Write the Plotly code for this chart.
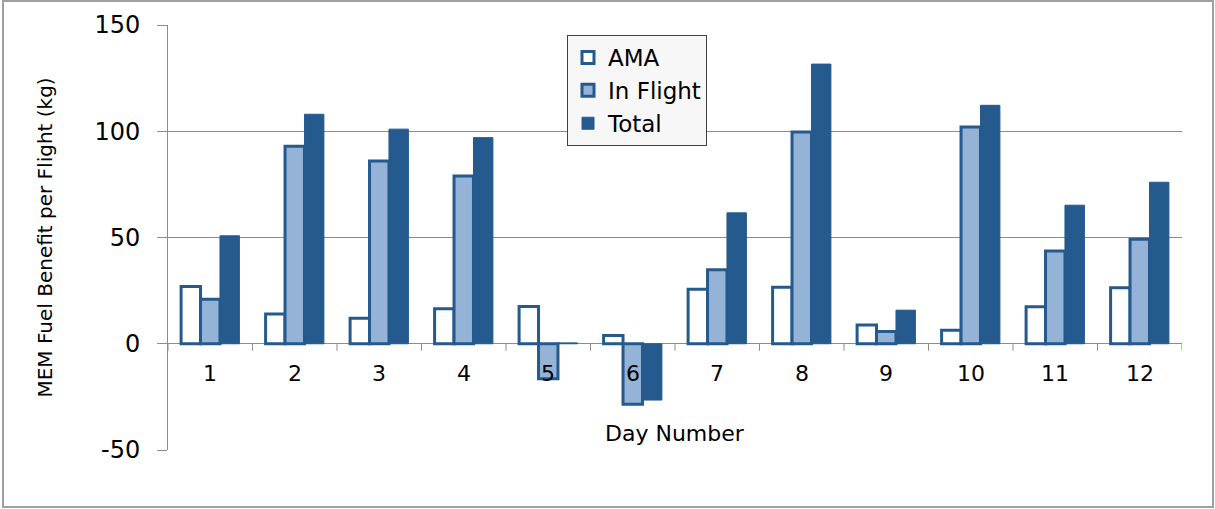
import plotly.graph_objects as go

days = [str(d) for d in range(1, 13)]
ama = [27, 14, 12, 16.5, 17.5, 3.9, 25.7, 26.6, 8.8, 6.3, 17.4, 26.3]
in_flight = [21, 93, 86, 79, -16.5, -28.5, 34.8, 99.7, 5.8, 102, 43.6, 49.2]
total = [50.8, 108, 101, 97, 0.4, -26.5, 61.6, 131.6, 15.8, 112.2, 65.2, 76]

y_ticks = [-50, 0, 50, 100, 150]
y_labels = ['-50', '0', '50', '100', '150']

dark = '#245a8d'
light = '#95b3d7'
grid = '#8c8c8c'
font = 'DejaVu Sans'

fig = go.Figure()
fig.add_trace(go.Bar(
    x=days, y=ama, name='AMA',
    marker=dict(color='white', line=dict(color=dark, width=3))
))
fig.add_trace(go.Bar(
    x=days, y=in_flight, name='In Flight',
    marker=dict(color=light, line=dict(color=dark, width=3))
))
fig.add_trace(go.Bar(
    x=days, y=total, name='Total',
    marker=dict(color=dark, line=dict(color=dark, width=1))
))

# day labels sit on the zero line, Excel style
for i, d in enumerate(days):
    fig.add_annotation(x=i, y=0, xref='x', yref='y', text=d, showarrow=False,
                       yshift=-30, font=dict(family=font, size=22, color='black'))

# tick marks between categories on the zero line
for i in range(len(days) + 1):
    fig.add_shape(type='line', xref='x', yref='y', x0=i - 0.5, x1=i - 0.5,
                  ysizemode='pixel', yanchor=0, y0=0, y1=-7,
                  line=dict(color=grid, width=1))

W, H = 1215, 509
l, r, t, b = 168, 33, 25, 59
pw, ph = W - l - r, H - t - b

fig.add_annotation(x=0.5, y=(H - b - 433) / ph, xref='paper', yref='paper',
                   text='Day Number', showarrow=False, yanchor='middle',
                   font=dict(family=font, size=22, color='black'))

# outer chart border
fig.add_shape(type='rect', xref='paper', yref='paper',
              x0=(3 - l) / pw, x1=(W - 2 - l) / pw,
              y0=-(H - 2 - (H - b)) / ph, y1=(H - b - 1) / ph,
              line=dict(color='#a0a0a0', width=2), layer='below')

fig.update_layout(
    width=W, height=H,
    margin=dict(l=l, r=r, t=t, b=b),
    paper_bgcolor='white', plot_bgcolor='white',
    barmode='group', bargap=0.31, bargroupgap=0,
    font=dict(family=font, color='black'),
    legend=dict(
        x=(567 - l) / pw, y=(H - b - 35) / ph, xanchor='left', yanchor='top',
        bgcolor='#f7f7f7', bordercolor='#404040', borderwidth=1,
        font=dict(family=font, size=23), tracegroupgap=0
    ),
    xaxis=dict(
        type='category', range=[-0.5, 11.5], showticklabels=False,
        showgrid=False, zeroline=False, showline=False, ticks=''
    ),
    yaxis=dict(
        range=[-50, 150], tickvals=y_ticks, ticktext=y_labels,
        showgrid=True, gridcolor=grid,
        gridwidth=1, zeroline=True, zerolinecolor=grid, zerolinewidth=1,
        showline=True, linecolor=grid, linewidth=1,
        ticks='outside', ticklen=10, tickcolor=grid,
        tickfont=dict(family=font, size=24), ticklabelstandoff=12,
        title=dict(text='MEM Fuel Benefit per Flight (kg)', standoff=36,
                   font=dict(family=font, size=20))
    ),
)

fig.write_html("out.html", config={'displayModeBar': False},
               post_script="document.body.style.margin='0';")
